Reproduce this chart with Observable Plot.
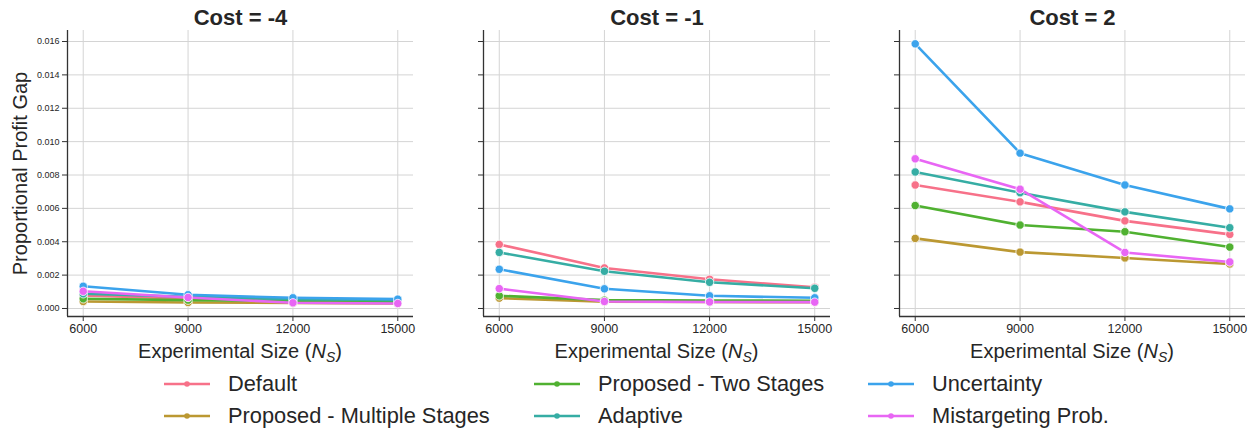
<!DOCTYPE html>
<html>
<head>
<meta charset="utf-8">
<script src="https://cdn.jsdelivr.net/npm/d3@7"></script>
<script src="https://cdn.jsdelivr.net/npm/@observablehq/plot@0.6"></script>
<style>
  html, body { margin: 0; padding: 0; background: #fff; }
  body { font-family: "Liberation Sans", Arial, sans-serif; color: #262626; }
  #chart { position: relative; width: 1255px; height: 431px; }
  #row { display: flex; }
  .panel { display: flex; flex-direction: column; }
  .xlabel { height: 28px; line-height: 22px; font-size: 20px; text-align: center; white-space: nowrap; }
  .xlabel sub { font-size: 0.7em; vertical-align: -0.3em; line-height: 0; }
  #legend { position: relative; height: 63px; }
  .item { position: absolute; height: 32px; display: flex; align-items: center; font-size: 21.8px; white-space: nowrap; }
  .item svg { margin-right: 18px; }
</style>
</head>
<body>
<div id="chart">
  <div id="row"></div>
  <div id="legend"></div>
</div>
<script>
// Experimental sizes (x axis) and the cost settings, one panel each
const sizes = [6000, 9000, 12000, 15000];
const costs = [-4, -1, 2];
const methods = [
  "Default",
  "Proposed - Multiple Stages",
  "Proposed - Two Stages",
  "Adaptive",
  "Uncertainty",
  "Mistargeting Prob."
];
const colors = ["#f77189", "#bb9832", "#50b131", "#36ada4", "#3ba3ec", "#e866f4"];
const yTicks = [0, 0.002, 0.004, 0.006, 0.008, 0.010, 0.012, 0.014, 0.016];

// Proportional profit gap, rows in the order of `methods`, columns in the order of `sizes`
const gapCostNeg4 = [
  [0.00078, 0.00058, 0.00045, 0.00040],
  [0.00042, 0.00036, 0.00033, 0.00030],
  [0.00058, 0.00050, 0.00045, 0.00040],
  [0.00088, 0.00070, 0.00056, 0.00050],
  [0.00133, 0.00082, 0.00064, 0.00056],
  [0.00103, 0.00066, 0.00034, 0.00030]
];
const gapCostNeg1 = [
  [0.00384, 0.00243, 0.00175, 0.00127],
  [0.00062, 0.00040, 0.00039, 0.00037],
  [0.00076, 0.00050, 0.00048, 0.00046],
  [0.00336, 0.00223, 0.00157, 0.00121],
  [0.00235, 0.00118, 0.00076, 0.00064],
  [0.00119, 0.00042, 0.00039, 0.00038]
];
const gapCost2 = [
  [0.00740, 0.00639, 0.00525, 0.00444],
  [0.00420, 0.00338, 0.00303, 0.00267],
  [0.00617, 0.00500, 0.00460, 0.00368],
  [0.00818, 0.00694, 0.00579, 0.00484],
  [0.01586, 0.00931, 0.00740, 0.00597],
  [0.00897, 0.00715, 0.00336, 0.00279]
];
const gaps = [gapCostNeg4, gapCostNeg1, gapCost2];

// Panel geometry: svg width and side margins of each facet
const panels = [
  {width: 420, marginLeft: 67, marginRight: 7},
  {width: 420, marginLeft: 63, marginRight: 10},
  {width: 415, marginLeft: 59, marginRight: 10}
];

const xDomain = [5550, 15450];
const yDomain = [-0.00048, 0.01666];
const gridStyle = {stroke: "#d4d4d4", strokeOpacity: 1, strokeWidth: 1};
const spine = {stroke: "#333", strokeWidth: 1.3};

const row = document.getElementById("row");

costs.forEach((cost, i) => {
  const rows = [];
  methods.forEach((m, k) => sizes.forEach((s, j) => rows.push({method: m, size: s, gap: gaps[i][k][j]})));

  // one line + its markers per method, drawn in legend order
  const seriesMarks = methods.flatMap(m => {
    const d = rows.filter(r => r.method === m);
    return [
      Plot.line(d, {x: "size", y: "gap", stroke: "method", strokeWidth: 2.6}),
      Plot.dot(d, {x: "size", y: "gap", fill: "method", r: 4.2, stroke: "white", strokeWidth: 0.8})
    ];
  });

  const p = panels[i];
  const svg = Plot.plot({
    width: p.width,
    height: 340,
    marginLeft: p.marginLeft,
    marginRight: p.marginRight,
    marginTop: 30,
    marginBottom: 24,
    style: {fontFamily: "'Liberation Sans', Arial, sans-serif", color: "#262626", background: "#fff", overflow: "visible"},
    x: {domain: xDomain},
    y: {domain: yDomain},
    color: {domain: methods, range: colors},
    marks: [
      Plot.gridX(sizes, gridStyle),
      Plot.gridY(yTicks, gridStyle),
      Plot.axisX({ticks: sizes, tickFormat: d => String(d), tickSize: 5, tickPadding: 3, fontSize: 12.5, label: null, stroke: "#333"}),
      Plot.axisY({ticks: yTicks, tickFormat: i === 0 ? d3.format(".3f") : () => "", tickSize: 5, tickPadding: 3, fontSize: 9, label: null, stroke: "#333"}),
      Plot.ruleX([xDomain[0]], spine),
      Plot.ruleY([yDomain[0]], spine),
      ...seriesMarks,
      Plot.text([`Cost = ${cost}`], {frameAnchor: "top", dy: -13, lineAnchor: "middle", fontSize: 22, fontWeight: "bold", fill: "#262626"}),
      ...(i === 0 ? [Plot.text(["Proportional Profit Gap"], {frameAnchor: "left", dx: -47, rotate: -90, textAnchor: "middle", lineAnchor: "middle", fontSize: 20, fill: "#262626"})] : [])
    ]
  });

  const panel = document.createElement("div");
  panel.className = "panel";
  panel.style.width = p.width + "px";
  panel.appendChild(svg);
  const xl = document.createElement("div");
  xl.className = "xlabel";
  xl.style.paddingLeft = p.marginLeft + "px";
  xl.style.paddingRight = p.marginRight + "px";
  xl.innerHTML = "Experimental Size (<i>N</i><sub><i>S</i></sub>)";
  panel.appendChild(xl);
  row.appendChild(panel);
});

// Legend: three columns, two rows, filled column by column
const legend = document.getElementById("legend");
const colLeft = [164, 534, 868];
methods.forEach((m, k) => {
  const item = document.createElement("div");
  item.className = "item";
  item.style.left = colLeft[Math.floor(k / 2)] + "px";
  item.style.top = (k % 2) * 32 + "px";
  item.innerHTML =
    `<svg width="46" height="10"><line x1="0" x2="46" y1="5" y2="5" stroke="${colors[k]}" stroke-width="2.6"/>` +
    `<circle cx="23" cy="5" r="2.8" fill="${colors[k]}"/></svg><span>${m}</span>`;
  legend.appendChild(item);
});
</script>
</body>
</html>
